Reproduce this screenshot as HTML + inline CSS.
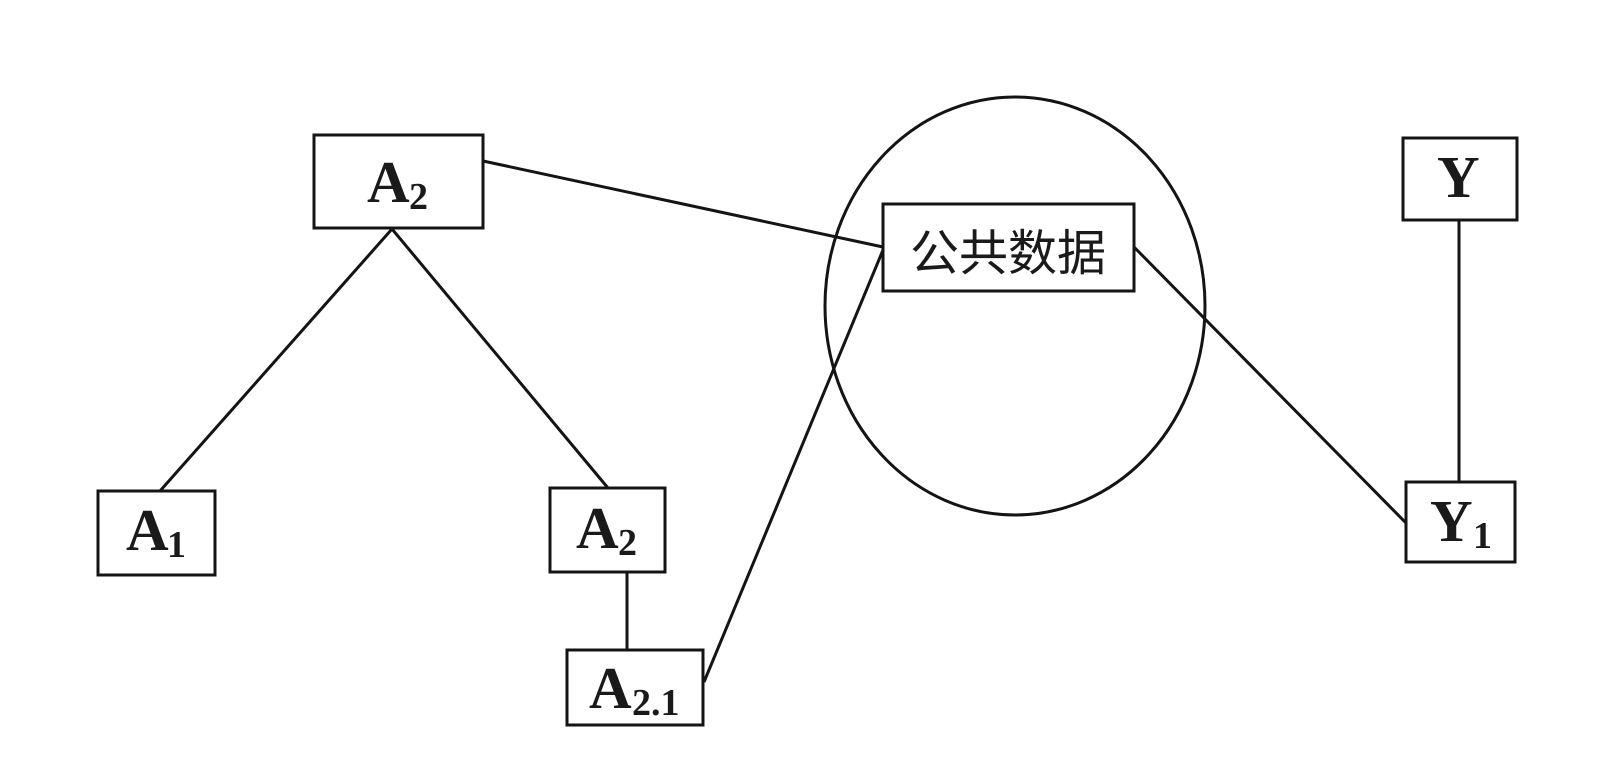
<!DOCTYPE html>
<html>
<head>
<meta charset="utf-8">
<style>
  html, body { margin: 0; padding: 0; background: #ffffff; }
  body { width: 1610px; height: 762px; overflow: hidden; }
  svg { display: block; }
  .lat { font-family: "Liberation Serif", serif; font-weight: bold; fill: #1a1a1a; }
  .cjk { font-family: "Liberation Sans", "Noto Sans CJK SC", sans-serif; fill: #1a1a1a; }
</style>
</head>
<body>
<svg width="1610" height="762" viewBox="0 0 1610 762" xmlns="http://www.w3.org/2000/svg">
  <g fill="none" stroke="#141414" stroke-width="3">
    <!-- ellipse -->
    <ellipse cx="1015" cy="306" rx="190" ry="209"/>
    <!-- connectors -->
    <line x1="483" y1="161" x2="883" y2="247"/>
    <line x1="704" y1="682" x2="883" y2="250"/>
    <line x1="1134" y1="247" x2="1406" y2="523"/>
    <line x1="392" y1="229" x2="160" y2="491"/>
    <line x1="392" y1="229" x2="608" y2="488"/>
    <line x1="627" y1="572" x2="627" y2="650"/>
    <line x1="1459" y1="220" x2="1459" y2="482"/>
  </g>
  <g fill="#ffffff" stroke="#141414" stroke-width="3">
    <rect x="314" y="135" width="169" height="93"/>
    <rect x="883" y="204" width="251" height="87"/>
    <rect x="98" y="491" width="117" height="84"/>
    <rect x="550" y="488" width="115" height="84"/>
    <rect x="567" y="650" width="136" height="75"/>
    <rect x="1403" y="138" width="114" height="82"/>
    <rect x="1406" y="482" width="109" height="80"/>
  </g>

  <!-- labels -->
  <text class="lat" x="367" y="202" font-size="59">A</text>
  <text class="lat" x="409" y="209" font-size="38">2</text>

  <text class="cjk" x="1008" y="270" font-size="49" text-anchor="middle">公共数据</text>

  <text class="lat" x="126" y="550" font-size="59">A</text>
  <text class="lat" x="167" y="557" font-size="38">1</text>

  <text class="lat" x="576" y="548" font-size="59">A</text>
  <text class="lat" x="618" y="555" font-size="38">2</text>

  <text class="lat" x="589" y="708" font-size="59">A</text>
  <text class="lat" x="632" y="715" font-size="38">2.1</text>

  <text class="lat" x="1437" y="197" font-size="59">Y</text>

  <text class="lat" x="1430" y="541" font-size="59">Y</text>
  <text class="lat" x="1473" y="548" font-size="38">1</text>
</svg>
</body>
</html>
